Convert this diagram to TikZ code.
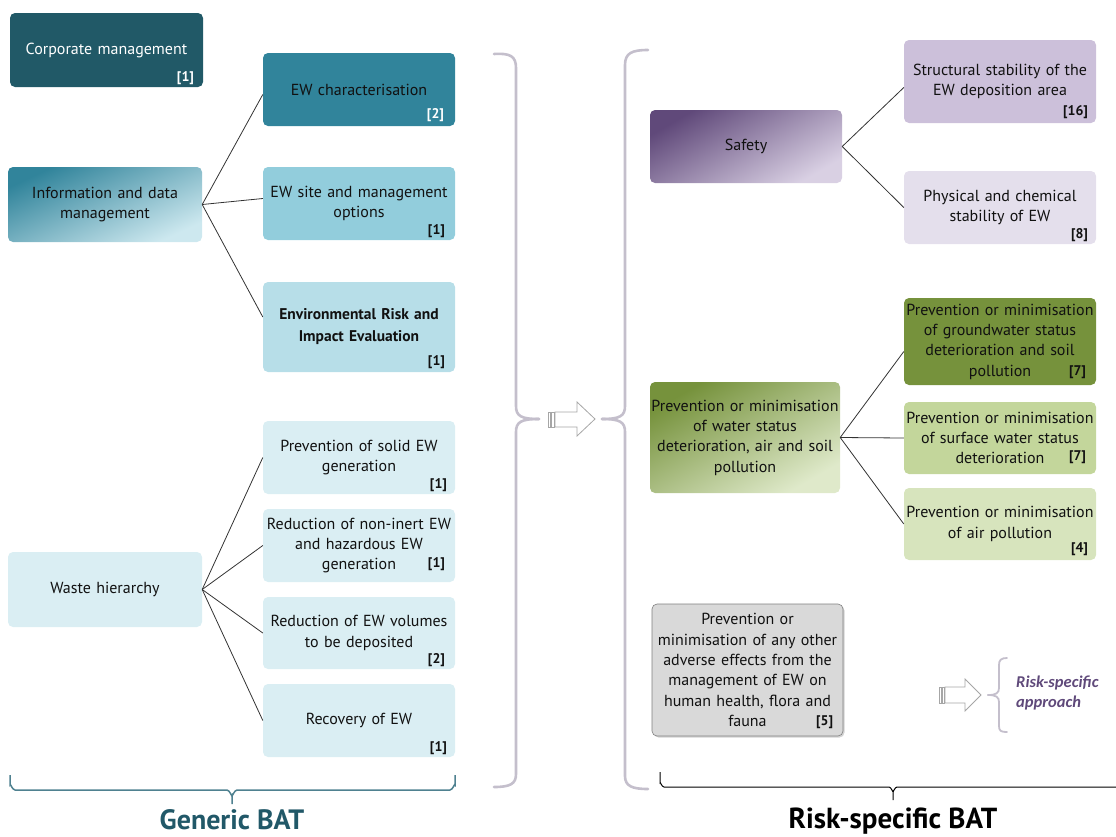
\documentclass[tikz,border=0pt]{standalone}
\usepackage{fontspec}
\setmainfont{PT Sans}
\newfontfamily\calib{Carlito}
\usetikzlibrary{calc,shadows}
\definecolor{cCorp}{HTML}{215967}
\definecolor{cChar}{HTML}{31849B}
\definecolor{cSite}{HTML}{92CDDC}
\definecolor{cEnv}{HTML}{B7DEE8}
\definecolor{cWaste}{HTML}{DAEEF3}
\definecolor{cPurD}{HTML}{60497A}
\definecolor{cPurM}{HTML}{B3A2C7}
\definecolor{cPur}{HTML}{CCC0DA}
\definecolor{cPurL}{HTML}{E4DFEC}
\definecolor{cGrnD}{HTML}{76923C}
\definecolor{cGrnM}{HTML}{C3D69B}
\definecolor{cGrnL}{HTML}{D7E4BD}
\definecolor{cGray}{HTML}{D9D9D9}
\definecolor{cGrayB}{HTML}{808080}
\definecolor{cBrace}{HTML}{C4BFCC}
\definecolor{cArrow}{HTML}{A6A6A6}
\definecolor{cBrk}{HTML}{4F8190}
\definecolor{cGen}{HTML}{215868}
\definecolor{cApp}{HTML}{5F497A}
\definecolor{cTxt}{HTML}{111111}
\tikzset{
  box/.style={rounded corners=5pt, inner sep=1pt, align=center,
    text width=#1-2pt, minimum width=#1, text=cTxt,
    font=\fontsize{16}{20.3}\selectfont},
  box/.default=192pt,
  lab/.style={font=\bfseries\fontsize{14}{16}\selectfont, anchor=base east, inner sep=0pt, text=cTxt},
  conn/.style={draw=black!80, line width=0.8pt},
  bracebig/.style={draw=cBrace, line width=2.6pt, line cap=round},
  bracesmall/.style={draw=cBrace, line width=1.8pt, line cap=round},
  hollow/.style={draw=cArrow, fill=white, line width=0.8pt, line join=miter},
}
\begin{document}
\begin{tikzpicture}[x=1pt,y=-1pt]
\useasboundingbox (0,0) rectangle (1116,836);
% ---------------- left column ----------------
\node[box=193pt, fill=cCorp, minimum height=74pt, text=white] (corp) at (106.5,50) {Corporate management};
\node[box, fill=cChar, minimum height=73pt] (char) at (359,89.5) {EW characterisation};
\node[box=194pt, top color=cChar, middle color=cSite!75!cEnv, bottom color=cEnv!70!white, shading angle=25, minimum height=75pt] (info) at (105,204.5) {Information and data\\management};
\node[box, fill=cSite, minimum height=73pt] (site) at (359,203.5) {EW site and management\\options};
\node[box, fill=cEnv, minimum height=90pt, font=\bfseries\fontsize{15.5}{22}\selectfont] (env) at (359,327) {Environmental Risk and\\Impact Evaluation};
\node[box, fill=cWaste, minimum height=73pt] (solid) at (359,457.5) {Prevention of solid EW\\generation};
\node[box, fill=cWaste, minimum height=73pt] (noninert) at (359,545.5) {Reduction of non-inert EW\\and hazardous EW\\generation};
\node[box, fill=cWaste, minimum height=72pt] (volumes) at (359,633) {Reduction of EW volumes\\to be deposited};
\node[box, fill=cWaste, minimum height=73pt] (recov) at (359,720.5) {Recovery of EW};
\node[box=194pt, fill=cWaste, minimum height=75pt] (waste) at (105,589.5) {Waste hierarchy};

\node[lab, text=white] at ($(corp.south east)+(-9,-6)$) {[1]};
\node[lab, text=white] at ($(char.south east)+(-11,-8)$) {[2]};
\node[lab] at ($(site.south east)+(-10,-6)$) {[1]};
\node[lab] at ($(env.south east)+(-10,-7)$) {[1]};
\node[lab] at ($(solid.south east)+(-8,-6)$) {[1]};
\node[lab] at ($(noninert.south east)+(-10,-15)$) {[1]};
\node[lab] at ($(volumes.south east)+(-10,-6)$) {[2]};
\node[lab] at ($(recov.south east)+(-8,-6)$) {[1]};

\draw[conn] (info.east) -- ($(char.west)+(0,5)$);
\draw[conn] (info.east) -- ($(site.west)+(0,-5)$);
\draw[conn] (info.east) -- ($(env.west)+(0,-10)$);
\foreach \t in {solid,noninert,volumes,recov}
  \draw[conn] (waste.east) -- (\t.west);

% Generic BAT bracket
\draw[draw=cBrk, line width=1.5pt] (10,775) -- (10,785) to[out=90,in=180] (15,790) -- (227,790) to[out=0,in=-90] (232,795) -- (232,804);
\draw[draw=cBrk, line width=1.5pt] (232,795) to[out=-90,in=180] (237,790) -- (450,790) to[out=0,in=90] (455,785) -- (455,775);
\node[font=\bfseries\fontsize{28}{30}\selectfont, text=cGen, anchor=base, inner sep=0pt] (generic) at (232,829) {Generic BAT};

% ---------------- middle braces and arrow ----------------
\draw[bracebig] (494,54) .. controls (510,53) and (516,56) .. (516,68) -- (516,406)
  .. controls (516,416) and (521,419) .. (539,419);
\draw[bracebig] (539,419) .. controls (521,419) and (516,422) .. (516,432) -- (516,774)
  .. controls (516,784) and (510,787) .. (494,787);
\draw[bracebig] (648,50) .. controls (632,50) and (625,53) .. (625,65) -- (625,406)
  .. controls (625,416) and (620,419) .. (602,419);
\draw[bracebig] (602,419) .. controls (620,419) and (625,422) .. (625,432) -- (625,776)
  .. controls (625,786) and (632,789) .. (648,789);
\draw[hollow] (555,412) -- (577,412) -- (577,402) -- (595,419) -- (577,436) -- (577,427) -- (555,427) -- cycle;
\draw[hollow] (548,412) rectangle (550.5,427);
\draw[hollow] (551.5,412) rectangle (554,427);

% ---------------- right column ----------------
\node[box, top color=cPurD, middle color=cPurM, bottom color=cPur!75!white, shading angle=30, minimum height=73pt] (safety) at (746,146.5) {Safety};
\node[box, fill=cPur, minimum height=83pt] (struct) at (1000,81.5) {Structural stability of the\\EW deposition area};
\node[box, fill=cPurL, minimum height=73pt] (phys) at (1000,207.5) {Physical and chemical\\stability of EW};
\node[lab] at ($(struct.south east)+(-8,-8)$) {[16]};
\node[lab] at ($(phys.south east)+(-8,-6)$) {[8]};
\draw[conn] (safety.east) -- ($(struct.west)+(0,6)$);
\draw[conn] (safety.east) -- (phys.west);

\node[box=190pt, top color=cGrnD, middle color=cGrnM, bottom color=cGrnL!80!white, shading angle=30, minimum height=111pt] (water) at (745,437.5) {Prevention or minimisation\\of water status\\deterioration, air and soil\\pollution};
\node[box, fill=cGrnD, minimum height=87pt] (ground) at (1000,341.5) {Prevention or minimisation\\of groundwater status\\deterioration and soil\\pollution};
\node[box, fill=cGrnM, minimum height=72pt] (surface) at (1000,438) {Prevention or minimisation\\of surface water status\\deterioration};
\node[box, fill=cGrnL, minimum height=72pt] (air) at (1000,524) {Prevention or minimisation\\of air pollution};
\node[lab] at ($(ground.south east)+(-10,-10)$) {[7]};
\node[lab] at ($(surface.south east)+(-10,-14)$) {[7]};
\node[lab] at ($(air.south east)+(-8,-8)$) {[4]};
\draw[conn] (water.east) -- ($(ground.west)+(0,10)$);
\draw[conn] (water.east) -- (surface.west);
\draw[conn] (water.east) -- (air.west);

\node[box=191pt, fill=cGray, draw=cGrayB, line width=0.6pt, minimum height=132pt,
  drop shadow={shadow xshift=1.5pt, shadow yshift=-1.5pt, opacity=0.35}] (other) at (747.5,670)
  {Prevention or\\minimisation of any other\\adverse effects from the\\management of EW on\\human health, flora and\\fauna};
\node[lab] at ($(other.south east)+(-10,-11)$) {[5]};

% small arrow + brace + text
\draw[hollow] (945,687) -- (965,687) -- (965,679) -- (981,695) -- (965,711) -- (965,703) -- (945,703) -- cycle;
\draw[hollow] (939,687) rectangle (941,703);
\draw[hollow] (942,687) rectangle (944,703);
\draw[bracesmall] (1007,658) .. controls (1001,658) and (999,660) .. (999,665) -- (999,688)
  .. controls (999,693) and (996,695) .. (988,695);
\draw[bracesmall] (988,695) .. controls (996,695) and (999,697) .. (999,702) -- (999,726)
  .. controls (999,731) and (1001,732) .. (1007,732);
\node[anchor=west, align=left, text=cApp, inner sep=0pt, font=\calib\bfseries\itshape\fontsize{16.5}{20}\selectfont] (approach) at (1016,693) {Risk-specific\\approach};

% Risk-specific BAT bracket
\draw[draw=black, line width=1pt] (660,772) -- (660,783) to[out=90,in=180] (664,787) -- (889,787) to[out=0,in=-90] (893,791) -- (893,800);
\draw[draw=black, line width=1pt] (893,791) to[out=-90,in=180] (897,787) -- (1116,787);
\node[font=\bfseries\fontsize{29}{31}\selectfont, text=black, anchor=base, inner sep=0pt] (riskbat) at (893,828) {Risk-specific BAT};
\end{tikzpicture}
\end{document}
